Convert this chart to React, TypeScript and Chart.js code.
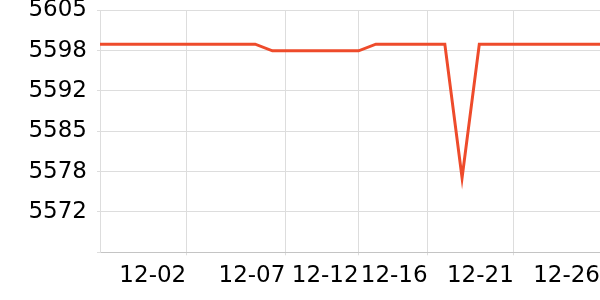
import React, { useEffect, useRef } from "react";
import { Chart, registerables } from "chart.js";

Chart.register(...registerables);

// Daily values (30 points)
const values: number[] = [
  5599.4, 5599.4, 5599.4, 5599.4, 5599.4, 5599.4, 5599.4, 5599.4, 5599.4, 5599.4,
  5598.3, 5598.3, 5598.3, 5598.3, 5598.3, 5598.3,
  5599.4, 5599.4, 5599.4, 5599.4, 5599.4,
  5577.3,
  5599.4, 5599.4, 5599.4, 5599.4, 5599.4, 5599.4, 5599.4, 5599.4,
];

const xTickPositions: number[] = [5, 10.75, 15, 19, 24, 29];
const xTickLabels: string[] = ["12-02", "12-07", "12-12", "12-16", "12-21", "12-26"];

const yMin = 5565;
const yMax = 5605;
const yTickValues: number[] = [5565, 5571.667, 5578.333, 5585, 5591.667, 5598.333, 5605];
const yTickLabels: string[] = ["", "5572", "5578", "5585", "5592", "5598", "5605"];

export default function App() {
  const ref = useRef<HTMLCanvasElement | null>(null);

  useEffect(() => {
    document.body.style.margin = "0";
    const canvas = ref.current;
    if (!canvas) return;
    const font = { family: "'DejaVu Sans'", size: 23 };
    const chart = new Chart(canvas, {
      type: "line",
      data: {
        datasets: [
          {
            data: values.map((v, i) => ({ x: i, y: v })),
            borderColor: "#ee4b2b",
            backgroundColor: "#ee4b2b",
            borderWidth: 3,
            pointRadius: 0,
            tension: 0,
            fill: false,
          },
        ],
      },
      options: {
        animation: false,
        responsive: false,
        maintainAspectRatio: false,
        layout: { padding: { top: 10.3, right: 0, left: 0, bottom: 0 } },
        plugins: { legend: { display: false }, tooltip: { enabled: false } },
        scales: {
          x: {
            type: "linear",
            min: 0,
            max: values.length - 1,
            afterBuildTicks: (scale: any) => {
              scale.ticks = xTickPositions.map((v) => ({ value: v }));
            },
            afterFit: (scale: any) => {
              scale.height = 47.7;
              scale.paddingLeft = 0;
              scale.paddingRight = 0;
            },
            ticks: {
              autoSkip: false,
              maxRotation: 0,
              minRotation: 0,
              align: "end",
              color: "#000",
              font,
              padding: 7,
              callback: (_v: any, i: number) => xTickLabels[i],
            },
            grid: { color: "#dddddd", tickLength: 3, lineWidth: 1 },
            border: { color: "#c4c4c4" },
          },
          y: {
            type: "linear",
            min: yMin,
            max: yMax,
            afterBuildTicks: (scale: any) => {
              scale.ticks = yTickValues.map((v) => ({ value: v }));
            },
            afterFit: (scale: any) => {
              scale.width = 100;
              scale.paddingTop = 0;
              scale.paddingBottom = 0;
            },
            ticks: {
              autoSkip: false,
              color: "#000",
              font,
              padding: 10,
              callback: (_v: any, i: number) => yTickLabels[i],
            },
            grid: { color: "#dddddd", tickLength: 3, lineWidth: 1 },
            border: { color: "#dddddd" },
          },
        },
      },
    } as any);
    return () => chart.destroy();
  }, []);

  return (
    <div style={{ position: "fixed", left: 0, top: 0, width: 600, height: 300 }}>
      <canvas ref={ref} width={600} height={300} style={{ width: 600, height: 300 }} />
    </div>
  );
}
